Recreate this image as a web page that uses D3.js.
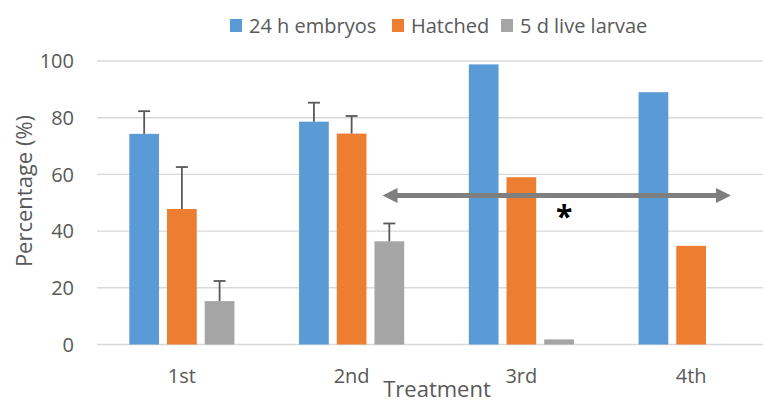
<!DOCTYPE html>
<html>
<head>
<meta charset="utf-8">
<script src="https://cdn.jsdelivr.net/npm/d3@7"></script>
<style>
  html, body { margin: 0; padding: 0; background: #fff; }
  svg { display: block; font-family: 'Open Sans', sans-serif; }
</style>
</head>
<body>
<svg id="chart" width="763" height="403"></svg>
<script>
// data
const categories = ['1st', '2nd', '3rd', '4th'];
const seriesNames = ['24 h embryos', 'Hatched', '5 d live larvae'];
const embryos24h = [74.3, 78.6, 98.8, 89.0];
const hatched = [47.8, 74.4, 59.0, 34.8];
const liveLarvae5d = [15.3, 36.4, 1.8, null];
const embryosErr = [8.0, 6.7, null, null];
const hatchedErr = [14.8, 6.2, null, null];
const larvaeErr = [7.1, 6.3, null, null];
const yTicks = [0, 20, 40, 60, 80, 100];
// significance annotation: arrow from 2nd group to 4th group at this height
const arrowLevel = 52.6;
const arrowLabel = '*';

const colors = ['#5B9BD5', '#ED7D31', '#A5A5A5'];
const values = [embryos24h, hatched, liveLarvae5d];
const errors = [embryosErr, hatchedErr, larvaeErr];

const width = 763, height = 403;
const svg = d3.select('#chart');

const x = d3.scaleBand()
  .domain(categories)
  .range([97, 776]);

const xSub = d3.scaleBand()
  .domain(seriesNames)
  .range([0, x.bandwidth()])
  .paddingInner(0.212)
  .paddingOuter(0.857);

const y = d3.scaleLinear()
  .domain([0, 100])
  .range([344.5, 61]);

// gridlines
svg.append('g')
  .selectAll('line')
  .data(yTicks)
  .join('line')
  .attr('x1', 97)
  .attr('x2', width)
  .attr('y1', d => y(d))
  .attr('y2', d => y(d))
  .attr('stroke', '#d9d9d9')
  .attr('stroke-width', 1.4);

// y tick labels
svg.append('g')
  .selectAll('text')
  .data(yTicks)
  .join('text')
  .attr('x', 74)
  .attr('y', d => y(d))
  .attr('dy', '0.36em')
  .attr('text-anchor', 'end')
  .attr('font-size', 20)
  .attr('fill', '#595959')
  .text(d => d);

// bars
const rows = [];
seriesNames.forEach((s, si) => {
  categories.forEach((c, ci) => {
    const v = values[si][ci];
    if (v == null) return;
    rows.push({ s, si, c, v, err: errors[si][ci] });
  });
});

svg.append('g')
  .selectAll('rect')
  .data(rows)
  .join('rect')
  .attr('x', d => x(d.c) + xSub(d.s))
  .attr('width', xSub.bandwidth())
  .attr('y', d => y(d.v))
  .attr('height', d => y(0) - y(d.v))
  .attr('fill', d => colors[d.si]);

// error bars
const errRows = rows.filter(d => d.err != null);
const eb = svg.append('g')
  .attr('stroke', '#595959')
  .attr('stroke-width', 1.8);
eb.selectAll('line.v')
  .data(errRows)
  .join('line')
  .attr('class', 'v')
  .attr('x1', d => x(d.c) + xSub(d.s) + xSub.bandwidth() / 2)
  .attr('x2', d => x(d.c) + xSub(d.s) + xSub.bandwidth() / 2)
  .attr('y1', d => y(d.v))
  .attr('y2', d => y(d.v + d.err));
eb.selectAll('line.cap')
  .data(errRows)
  .join('line')
  .attr('class', 'cap')
  .attr('x1', d => x(d.c) + xSub(d.s) + xSub.bandwidth() / 2 - 6)
  .attr('x2', d => x(d.c) + xSub(d.s) + xSub.bandwidth() / 2 + 6)
  .attr('y1', d => y(d.v + d.err))
  .attr('y2', d => y(d.v + d.err));

// significance arrow
const ax1 = x('2nd') + xSub('5 d live larvae') + 8;
const ax2 = x('4th') + x.bandwidth() - 45;
const ay = y(arrowLevel);
const head = 15, half = 7.5;
svg.append('line')
  .attr('x1', ax1 + head - 1)
  .attr('x2', ax2 - head + 1)
  .attr('y1', ay)
  .attr('y2', ay)
  .attr('stroke', '#7f7f7f')
  .attr('stroke-width', 5);
svg.append('path')
  .attr('d', `M${ax1},${ay} L${ax1 + head},${ay - half} L${ax1 + head},${ay + half} Z`)
  .attr('fill', '#7f7f7f');
svg.append('path')
  .attr('d', `M${ax2},${ay} L${ax2 - head},${ay - half} L${ax2 - head},${ay + half} Z`)
  .attr('fill', '#7f7f7f');
svg.append('text')
  .attr('x', x('3rd') + xSub('5 d live larvae') + xSub.bandwidth() / 2 + 5)
  .attr('y', ay + 32)
  .attr('text-anchor', 'middle')
  .attr('font-size', 30)
  .attr('font-weight', 'bold')
  .attr('fill', '#000')
  .text(arrowLabel);

// x category labels
svg.append('g')
  .selectAll('text')
  .data(categories)
  .join('text')
  .attr('x', d => x(d) + x.bandwidth() / 2)
  .attr('y', 383)
  .attr('text-anchor', 'middle')
  .attr('font-size', 20)
  .attr('fill', '#595959')
  .text(d => d);

// axis titles
svg.append('text')
  .attr('x', 437)
  .attr('y', 397)
  .attr('text-anchor', 'middle')
  .attr('font-size', 22)
  .attr('fill', '#595959')
  .text('Treatment');

svg.append('text')
  .attr('transform', 'translate(32,191) rotate(-90)')
  .attr('text-anchor', 'middle')
  .attr('font-size', 22)
  .attr('fill', '#595959')
  .text('Percentage (%)');

// legend
const legendX = [230, 392, 501];
const legend = svg.append('g')
  .selectAll('g')
  .data(seriesNames)
  .join('g')
  .attr('transform', (d, i) => `translate(${legendX[i]},19)`);
legend.append('rect')
  .attr('width', 12)
  .attr('height', 13)
  .attr('fill', (d, i) => colors[i]);
legend.append('text')
  .attr('x', 19)
  .attr('y', 7)
  .attr('dy', '0.36em')
  .attr('font-size', 20)
  .attr('fill', '#595959')
  .text(d => d);
</script>
</body>
</html>
